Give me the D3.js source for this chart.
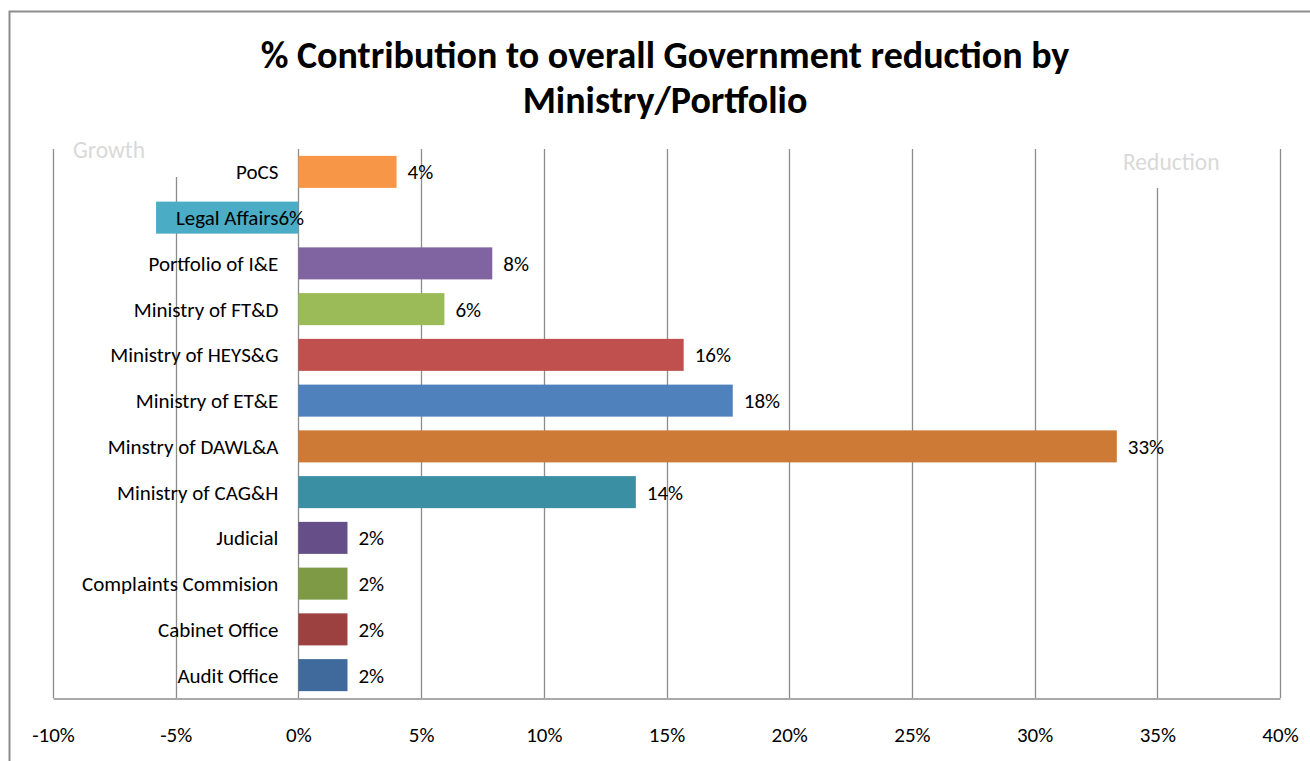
<!DOCTYPE html>
<html>
<head>
<meta charset="utf-8">
<script src="https://cdn.jsdelivr.net/npm/d3@7/dist/d3.min.js"></script>
<style>
  html, body { margin: 0; padding: 0; background: #fff; }
  svg { display: block; font-family: Carlito, Calibri, Lato, "Open Sans", sans-serif; }
</style>
</head>
<body>
<svg id="chart" width="1310" height="761"></svg>
<script>
// Ministries / portfolios, top to bottom
const categories = [
  "PoCS", "Legal Affairs", "Portfolio of I&E", "Ministry of FT&D",
  "Ministry of HEYS&G", "Ministry of ET&E", "Minstry of DAWL&A",
  "Ministry of CAG&H", "Judicial", "Complaints Commision",
  "Cabinet Office", "Audit Office"
];
// Share of the overall reduction (%); negative = growth
const values = [4.0, -5.8, 7.9, 5.95, 15.7, 17.7, 33.35, 13.75, 2.0, 2.0, 2.0, 2.0];
const colors = [
  "#F79646", "#4BACC6", "#8064A2", "#9BBB59", "#C0504D", "#4F81BD",
  "#CC7A35", "#3A8FA3", "#664E88", "#7E9A45", "#9C4140", "#3F6A9B"
];
const xTicks = [-10, -5, 0, 5, 10, 15, 20, 25, 30, 35, 40];
const titleLines = ["% Contribution to overall Government reduction by", "Ministry/Portfolio"];

const FONT = 21;
const svg = d3.select("#chart");

// outer chart frame (only top and left edges fall inside the view)
svg.append("path")
  .attr("d", "M9.5,761 V11.5 H1310")
  .attr("fill", "none").attr("stroke", "#8c8c8c").attr("stroke-width", 2);

const plot = { left: 53, right: 1280, top: 149, bottom: 698 };

const x = d3.scaleLinear().domain([-10, 40]).range([plot.left, plot.right]);
const y = d3.scaleBand().domain(categories).range([plot.top, plot.bottom]).paddingInner(0.3).paddingOuter(0.15);

// vertical gridlines
svg.append("g").selectAll("line").data(xTicks).join("line")
  .attr("x1", d => Math.round(x(d)) + 0.5).attr("x2", d => Math.round(x(d)) + 0.5)
  .attr("y1", plot.top).attr("y2", plot.bottom)
  .attr("stroke", "#8c8c8c").attr("stroke-width", 1.3);

// bottom axis
const axis = svg.append("g").attr("transform", `translate(0,${plot.bottom + 0.5})`)
  .call(d3.axisBottom(x).tickValues(xTicks).tickSize(0).tickPadding(29).tickFormat(d => d + "%"));
axis.select(".domain").attr("stroke", "#8c8c8c").attr("stroke-width", 1.5);
axis.selectAll("text").attr("font-size", FONT).attr("fill", "#000")
  .attr("font-family", "Carlito, Calibri, Lato, 'Open Sans', sans-serif");

// Growth / Reduction notes sit on white boxes over the grid
const notes = [
  { text: "Growth", x: 73, y: 158, box: [62, 138, 125, 39] },
  { text: "Reduction", x: 1123, y: 170, box: [1112, 138, 120, 50] }
];
svg.append("g").selectAll("rect").data(notes).join("rect")
  .attr("x", d => d.box[0]).attr("y", d => d.box[1])
  .attr("width", d => d.box[2]).attr("height", d => d.box[3]).attr("fill", "#fff");
svg.append("g").selectAll("text").data(notes).join("text")
  .attr("x", d => d.x).attr("y", d => d.y)
  .attr("font-size", 23.5).attr("fill", "#d9d9d9").text(d => d.text);

// bars
svg.append("g").selectAll("rect").data(values).join("rect")
  .attr("x", d => x(Math.min(0, d)))
  .attr("width", d => Math.abs(x(d) - x(0)))
  .attr("y", (d, i) => y(categories[i]))
  .attr("height", y.bandwidth())
  .attr("fill", (d, i) => colors[i]);

// category labels, right-aligned just left of zero
svg.append("g").selectAll("text").data(categories).join("text")
  .attr("x", x(0) - 20)
  .attr("y", d => y(d) + y.bandwidth() / 2)
  .attr("dy", "0.36em")
  .attr("text-anchor", "end")
  .attr("font-size", FONT).attr("fill", "#000")
  .text(d => d);

// value labels
svg.append("g").selectAll("text").data(values).join("text")
  .attr("x", d => d >= 0 ? x(d) + 11 : x(0) - 20)
  .attr("y", (d, i) => y(categories[i]) + y.bandwidth() / 2)
  .attr("dy", "0.36em")
  .attr("font-size", FONT).attr("fill", "#000")
  .text(d => Math.round(Math.abs(d)) + "%");

// title
svg.append("text")
  .attr("text-anchor", "middle")
  .attr("font-size", 38).attr("font-weight", "bold").attr("fill", "#000")
  .selectAll("tspan").data(titleLines).join("tspan")
  .attr("x", 665).attr("y", (d, i) => 68 + i * 45)
  .text(d => d);
</script>
</body>
</html>
